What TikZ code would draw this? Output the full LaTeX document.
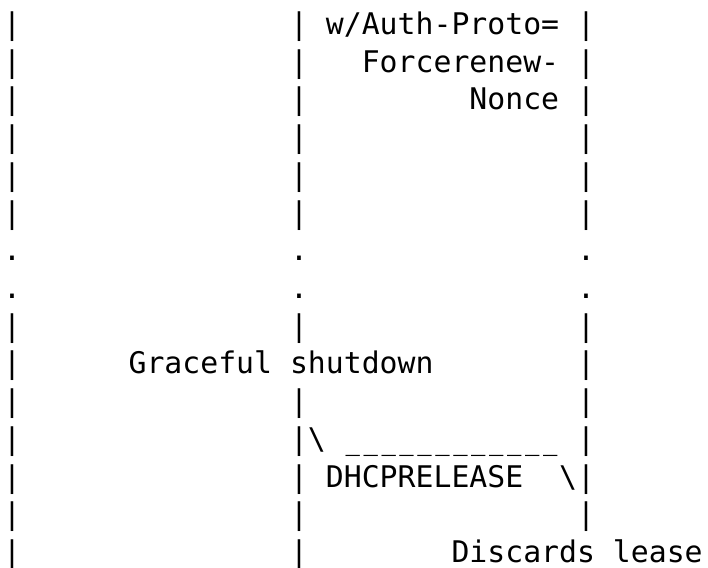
\documentclass[tikz,border=0pt]{standalone}
\usepackage{fontspec}
\newfontfamily\monofam{DejaVu Sans Mono}
\tikzset{
  asc/.style={anchor=base west, inner sep=0pt, outer sep=0pt, font=\monofam\fontsize{29.8pt}{37.7pt}\selectfont, text=black},
  ascmid/.style={anchor=base, inner sep=0pt, outer sep=0pt, font=\monofam\fontsize{29.8pt}{37.7pt}\selectfont, text=black}
}
\newcommand\cw{17.94}
\newcommand\ascii[4]{\node[asc] (#1) at ({3pt+#2*\cw pt},{-34.6pt-#3*37.7pt}) {#4};}
\begin{document}
\begin{tikzpicture}
\fill[white] (0,0) rectangle (708pt,-567pt);
\useasboundingbox (0,0) rectangle (708pt,-567pt);
% row 0
\ascii{a0}{0}{0}{|}
\ascii{b0}{16}{0}{|}
\ascii{t0}{18}{0}{w/Auth-Proto=}
\ascii{c0}{32}{0}{|}
% row 1
\ascii{a1}{0}{1}{|}
\ascii{b1}{16}{1}{|}
\ascii{t1}{20}{1}{Forcerenew-}
\ascii{c1}{32}{1}{|}
% row 2
\ascii{a2}{0}{2}{|}
\ascii{b2}{16}{2}{|}
\ascii{t2}{26}{2}{Nonce}
\ascii{c2}{32}{2}{|}
% rows 3-5, 8, 10, 13
\foreach \r in {3,4,5,8,10,13}{
  \ascii{a\r}{0}{\r}{|}
  \ascii{b\r}{16}{\r}{|}
  \ascii{c\r}{32}{\r}{|}
}
% rows 6-7 dots
\foreach \r in {6,7}{
  \ascii{a\r}{0}{\r}{.}
  \ascii{b\r}{16}{\r}{.}
  \ascii{c\r}{32}{\r}{.}
}
% row 9
\ascii{a9}{0}{9}{|}
\ascii{t9}{7}{9}{Graceful shutdown}
\ascii{c9}{32}{9}{|}
% row 11
\ascii{a11}{0}{11}{|}
\ascii{b11}{16}{11}{|\textbackslash}
\foreach \k in {19,...,30}{
  \node[ascmid] (u\k) at ({3pt+(\k+0.5)*\cw pt},{-34.6pt-11*37.7pt}) {\scalebox{0.8}[1]{\_}};
}
\ascii{c11}{32}{11}{|}
% row 12
\ascii{a12}{0}{12}{|}
\ascii{b12}{16}{12}{|}
\ascii{t12}{18}{12}{DHCPRELEASE}
\ascii{c12}{31}{12}{\textbackslash|}
% row 14
\ascii{a14}{0}{14}{|}
\ascii{b14}{16}{14}{|}
\ascii{t14}{25}{14}{Discards lease}
\end{tikzpicture}
\end{document}
